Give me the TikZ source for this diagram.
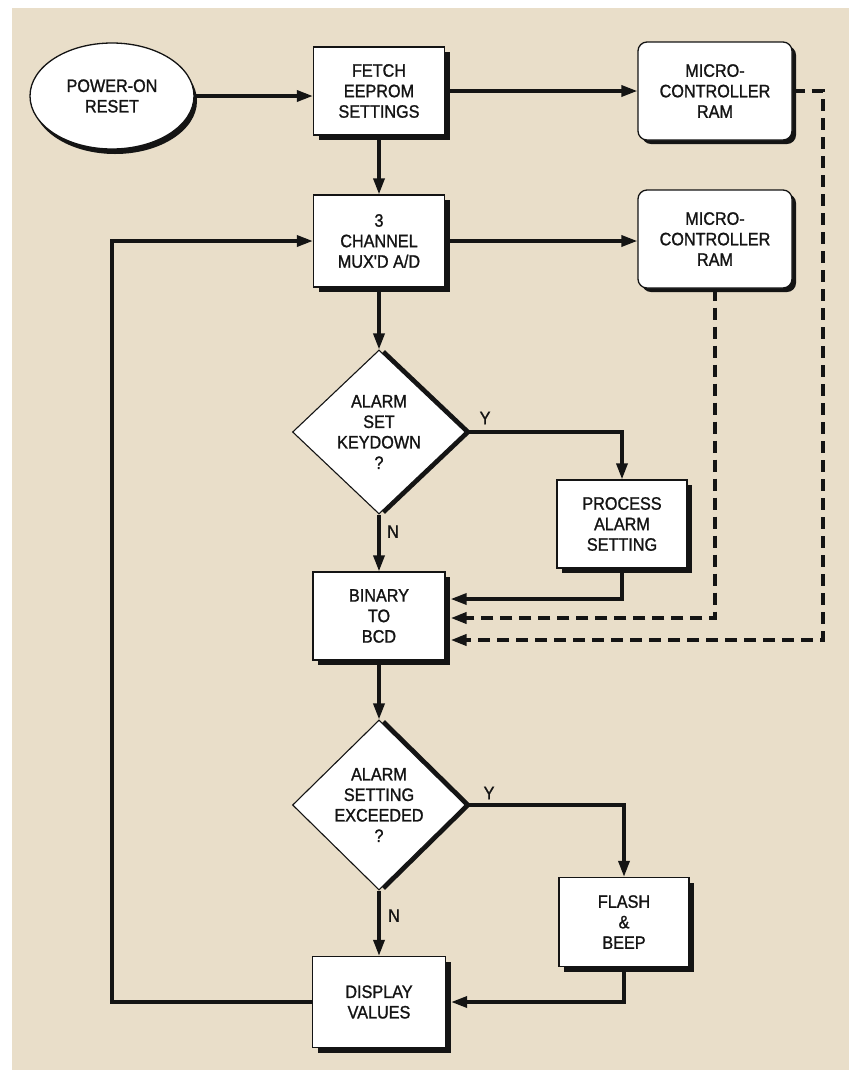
\documentclass[tikz,border=0pt]{standalone}
\usepackage{fontspec}
\newfontfamily\chartfont[FakeStretch=0.9,FakeBold=1.2]{Liberation Sans}
\usetikzlibrary{arrows.meta,positioning,calc,shapes.geometric,shadows}
\definecolor{Paper}{HTML}{E9DEC9}
\definecolor{Ink}{HTML}{141414}

\begin{document}
\begin{tikzpicture}[x=1pt,y=-1pt,
    txt/.style={font=\chartfont\fontsize{18}{20.5}\selectfont,align=center,text=Ink,inner sep=0pt},
    boxbase/.style={txt,draw=Ink,line width=1.3pt,fill=white,minimum width=131pt,minimum height=88pt},
    blockbox/.style={boxbase,drop shadow={shadow xshift=5pt,shadow yshift=-5pt,opacity=1,fill=Ink}},
    rambox/.style={boxbase,rounded corners=9pt,minimum width=154pt,minimum height=98pt,drop shadow={shadow xshift=4pt,shadow yshift=-4pt,opacity=1,fill=Ink}},
    oval/.style={txt,ellipse,draw=Ink,line width=1.3pt,fill=white,minimum width=164pt,minimum height=106pt,drop shadow={shadow xshift=3pt,shadow yshift=-5pt,opacity=1,fill=Ink}},
    decision/.style={txt,diamond,aspect=1,draw=Ink,line width=1.1pt,fill=white,minimum width=173pt,minimum height=164pt,drop shadow={shadow xshift=6pt,shadow yshift=0pt,opacity=1,fill=Ink}},
    flow/.style={draw=Ink,line width=3.4pt,-{Triangle[length=16pt,width=11pt]}},
    dataflow/.style={draw=Ink,line width=3.8pt,dash pattern=on 12pt off 7pt,-{Triangle[length=16pt,width=11pt]}}]
  \useasboundingbox (0,0) rectangle (851,1072);
  \fill[white] (0,0) rectangle (851,1072);
  \fill[Paper] (12,8) rectangle (849,1070);

  \node[oval] (reset) at (112,96) {POWER-ON\\RESET};
  \node[blockbox] (fetch) at (379,91) {FETCH\\EEPROM\\SETTINGS};
  \node[rambox] (ram1) at (715,91) {MICRO-\\CONTROLLER\\RAM};
  \node[blockbox,minimum height=92pt] (mux) at (379,241) {3\\CHANNEL\\MUX'D A/D};
  \node[rambox] (ram2) at (715,239) {MICRO-\\CONTROLLER\\RAM};
  \node[decision] (keyq) at (379,432) {ALARM\\SET\\KEYDOWN\\?};
  \node[blockbox,minimum width=130pt] (process) at (622,524) {PROCESS\\ALARM\\SETTING};
  \node[blockbox,minimum width=132pt] (bcd) at (379,616) {BINARY\\TO\\BCD};
  \node[decision,minimum height=170pt] (limitq) at (379,805) {ALARM\\SETTING\\EXCEEDED\\?};
  \node[blockbox,minimum width=130pt,minimum height=89pt] (flash) at (624,922) {FLASH\\\&\\BEEP};
  \node[blockbox,minimum width=133pt,minimum height=91pt] (display) at (379,1002) {DISPLAY\\VALUES};

  \node[txt] (keyyes) at ($(keyq.east)+(19,-14)$) {Y};
  \node[txt] (keyno) at ($(keyq.south)+(14,17)$) {N};
  \node[txt] (limityes) at ($(limitq.east)+(23,-12)$) {Y};
  \node[txt] (limitno) at ($(limitq.south)+(15,25)$) {N};

  \draw[flow] (reset.east) -- (reset.east -| fetch.west);
  \draw[flow] (fetch.east) -- (ram1.west);
  \draw[flow] (fetch.south) -- (mux.north);
  \draw[flow] (mux.east) -- (mux.east -| ram2.west);
  \draw[flow] (mux.south) -- (keyq.north);
  \draw[flow] (keyq.east) -| (process.north);
  \draw[flow] (keyq.south) -- (bcd.north);
  \draw[flow] (process.south) |- ($(bcd.east)+(5,-17)$);
  \draw[dataflow] (ram2.south) |- ($(bcd.east)+(5,2)$);
  \draw[dataflow] (ram1.east) -- ++(30,0) |- ($(bcd.east)+(5,24)$);
  \draw[flow] (bcd.south) -- (limitq.north);
  \draw[flow] (limitq.east) -| (flash.north);
  \draw[flow] (limitq.south) -- (display.north);
  \draw[flow] (flash.south) |- ($(display.east)+(5,0)$);
  \draw[flow] (display.west) -- ++(-200,0) |- (mux.west);
\end{tikzpicture}
\end{document}
